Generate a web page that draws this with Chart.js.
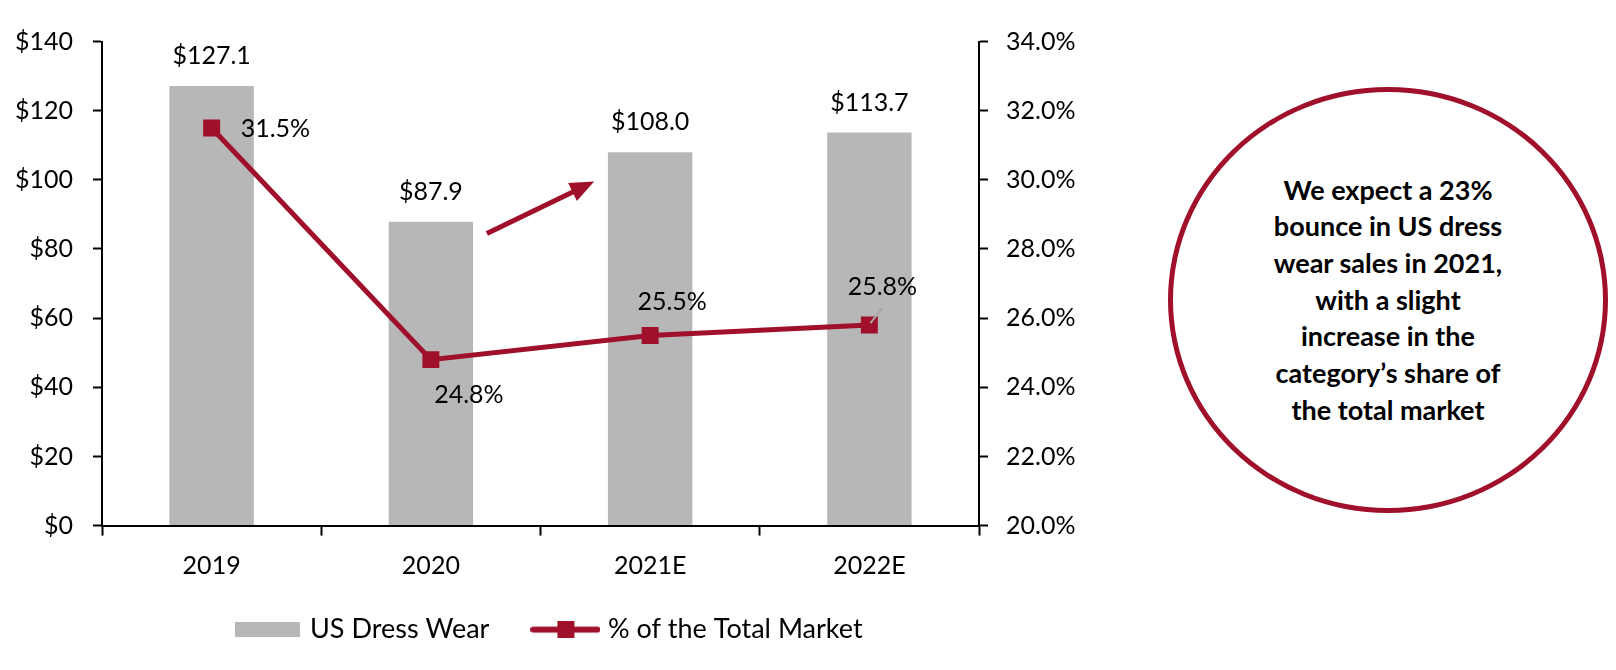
<!DOCTYPE html>
<html>
<head>
<meta charset="utf-8">
<script src="https://cdn.jsdelivr.net/npm/chart.js@4.4.1/dist/chart.umd.min.js"></script>
<style>
html,body{margin:0;padding:0;background:#fff;}
#wrap{position:relative;width:1616px;height:670px;}
#caja{position:absolute;left:0;top:0;width:1100px;height:670px;}
#nota{position:absolute;left:1168px;top:87px;width:440px;height:426px;box-sizing:border-box;
  border:5px solid #A0102A;border-radius:50%;display:flex;align-items:center;justify-content:center;
  text-align:center;font-family:Lato;font-weight:bold;font-size:27px;line-height:36.7px;color:#000;}
</style>
</head>
<body>
<div id="wrap">
  <div id="caja"><canvas id="grafico"></canvas></div>
  <div id="nota">We expect a 23%<br>bounce in US dress<br>wear sales in 2021,<br>with a slight<br>increase in the<br>category’s share of<br>the total market</div>
</div>
<script>
// datos
const anios = ['2019', '2020', '2021E', '2022E'];
const ventas = [127.1, 87.9, 108.0, 113.7];
const cuota = [31.5, 24.8, 25.5, 25.8];
const ticksVentas = [0, 20, 40, 60, 80, 100, 120, 140];
const ticksCuota = [20, 22, 24, 26, 28, 30, 32, 34];

// donde va cada etiqueta de % respecto a su punto
const desplaza = [[29, 1, 'left'], [38, 35, 'center'], [22, -33, 'center'], [13, -38, 'center']];

const rojo = '#A0102A';
const gris = '#B7B7B7';
Chart.defaults.font.family = 'Lato';
Chart.defaults.color = '#000';

function muestraBarra() {
  const c = document.createElement('canvas');
  c.width = 65; c.height = 15;
  const g = c.getContext('2d');
  g.fillStyle = gris;
  g.fillRect(0, 0, 65, 15);
  return c;
}
function muestraLinea() {
  const c = document.createElement('canvas');
  c.width = 70; c.height = 17;
  const g = c.getContext('2d');
  g.strokeStyle = rojo; g.lineWidth = 6; g.lineCap = 'round';
  g.beginPath(); g.moveTo(3, 8.5); g.lineTo(67, 8.5); g.stroke();
  g.fillStyle = rojo;
  g.fillRect(27, 0, 17, 17);
  return c;
}

const etiquetas = {
  id: 'etiquetas',
  afterDatasetsDraw(chart) {
    const ctx = chart.ctx;
    ctx.save();
    ctx.font = '25px Lato';
    ctx.fillStyle = '#000';
    ctx.textBaseline = 'middle';
    ctx.textAlign = 'center';
    chart.getDatasetMeta(0).data.forEach((bar, i) => {
      ctx.fillText('$' + ventas[i].toFixed(1), bar.x, bar.y - 30);
    });
    const pts = chart.getDatasetMeta(1).data;
    const p = pts[3];
    ctx.strokeStyle = '#A6A6A6'; ctx.lineWidth = 2;
    ctx.beginPath(); ctx.moveTo(p.x + 1, p.y - 2); ctx.lineTo(p.x + 13, p.y - 17); ctx.stroke();
    pts.forEach((pt, i) => {
      const d = desplaza[i];
      ctx.textAlign = d[2];
      ctx.fillText(cuota[i].toFixed(1) + '%', pt.x + d[0], pt.y + d[1]);
    });

    // flecha entre 2020 y 2021E
    const x = chart.scales.x, y = chart.scales.y;
    const x1 = x.getPixelForValue(1) + 56, y1 = y.getPixelForValue(84.5);
    const x2 = x.getPixelForValue(2) - 56, y2 = y.getPixelForValue(99.5);
    const ang = Math.atan2(y2 - y1, x2 - x1);
    ctx.strokeStyle = rojo; ctx.fillStyle = rojo; ctx.lineWidth = 5;
    ctx.beginPath(); ctx.moveTo(x1, y1);
    ctx.lineTo(x2 - 18 * Math.cos(ang), y2 - 18 * Math.sin(ang)); ctx.stroke();
    ctx.beginPath();
    ctx.moveTo(x2, y2);
    ctx.lineTo(x2 - 24 * Math.cos(ang) + 10 * Math.sin(ang), y2 - 24 * Math.sin(ang) - 10 * Math.cos(ang));
    ctx.lineTo(x2 - 24 * Math.cos(ang) - 10 * Math.sin(ang), y2 - 24 * Math.sin(ang) + 10 * Math.cos(ang));
    ctx.closePath(); ctx.fill();
    ctx.restore();
  }
};

// la leyenda de Excel no va centrada en el lienzo, la corro a mano
const moverLeyenda = {
  id: 'moverLeyenda',
  beforeDraw(chart) {
    const l = chart.legend;
    const w = l.right - l.left, h = l.bottom - l.top;
    l.left = chart.chartArea.left + 89.5;
    l.right = l.left + w;
    l.top = chart.chartArea.bottom + 43.5;
    l.bottom = l.top + h;
  }
};

const ejeY = {
  grid: { drawOnChartArea: false, drawTicks: true, tickLength: 9, tickColor: '#000', tickWidth: 2 },
  border: { display: true, color: '#000', width: 2 }
};

new Chart(document.getElementById('grafico'), {
  type: 'bar',
  data: {
    labels: anios,
    datasets: [{
      label: 'US Dress Wear',
      data: ventas,
      backgroundColor: gris,
      borderWidth: 0,
      barPercentage: 0.77,
      categoryPercentage: 0.5,
      yAxisID: 'y',
      order: 1
    },
    {
      type: 'line',
      label: '% of the Total Market',
      data: cuota,
      borderColor: rojo,
      backgroundColor: rojo,
      borderWidth: 5,
      pointStyle: 'rect',
      pointRadius: 12,
      pointBackgroundColor: rojo,
      pointBorderWidth: 0,
      tension: 0,
      yAxisID: 'y1',
      order: 0
    }]
  },
  options: {
    responsive: true,
    maintainAspectRatio: false,
    animation: false,
    layout: { padding: { top: 41.5, bottom: 4.4, left: 0, right: 0 } },
    plugins: {
      tooltip: { enabled: false },
      legend: {
        position: 'bottom',
        align: 'start',
        labels: {
          font: { size: 27 },
          color: '#000',
          padding: 47,
          usePointStyle: true,
          pointStyleWidth: 58,
          generateLabels(chart) {
            const items = Chart.defaults.plugins.legend.labels.generateLabels(chart);
            items.sort((a, b) => a.datasetIndex - b.datasetIndex);
            items.forEach(it => {
              it.pointStyle = it.datasetIndex === 0 ? muestraBarra() : muestraLinea();
            });
            return items;
          }
        }
      }
    },
    scales: {
      x: {
        grid: { offset: true, drawOnChartArea: false, drawTicks: true, tickLength: 10, tickColor: '#000', tickWidth: 2 },
        border: { display: true, color: '#000', width: 2 },
        afterFit: s => { s.height = 56; },
        ticks: { font: { size: 25 }, color: '#000', padding: 15 }
      },
      y: Object.assign({}, ejeY, {
        position: 'left',
        min: 0, max: 140,
        afterBuildTicks: s => { s.ticks = ticksVentas.map(v => ({ value: v })); },
        afterFit: s => { s.width = 102; },
        ticks: { font: { size: 25 }, color: '#000', padding: 20, callback: v => '$' + v }
      }),
      y1: Object.assign({}, ejeY, {
        position: 'right',
        min: 20, max: 34,
        afterBuildTicks: s => { s.ticks = ticksCuota.map(v => ({ value: v })); },
        afterFit: s => { s.width = 121; },
        ticks: { font: { size: 25 }, color: '#000', padding: 18, callback: v => v.toFixed(1) + '%' }
      })
    }
  },
  plugins: [etiquetas, moverLeyenda]
});
</script>
</body>
</html>
